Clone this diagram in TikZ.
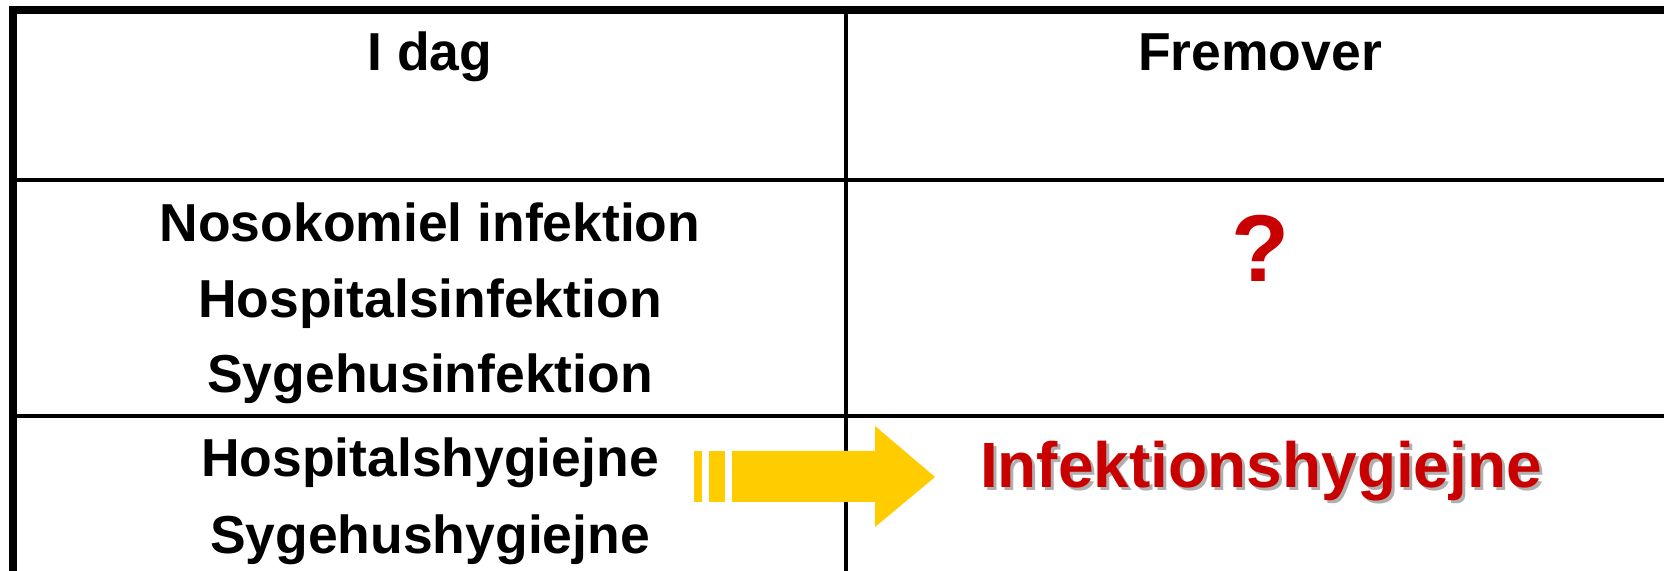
\documentclass[tikz,border=0pt]{standalone}
\usepackage{fontspec}
\setmainfont{Liberation Sans}
\definecolor{hygred}{RGB}{200,0,0}
\definecolor{arrowyellow}{RGB}{255,204,0}
\definecolor{shadowgray}{RGB}{175,175,175}
\begin{document}
\begin{tikzpicture}
          [x=0.01cm,y=-0.01cm,every node/.style={inner sep=0pt, anchor=base, font=\fontsize{15.2}{18}\selectfont\bfseries},
           rule/.style={draw=black, line width=1.1pt},
           frame/.style={draw=black, line width=2.2pt}]
        \useasboundingbox (0,0) rectangle (1664,571);

        % table lines
        \draw[rule] (13,180) -- (1664,180);
        \draw[rule] (13,416) -- (1664,416);
        \draw[rule] (846,10) -- (846,571);
        \draw[frame] (13,571) -- (13,10) -- (1664,10);

        % headings
        \node (h1) at (430,71) {I dag};
        \node (h2) at (1260,71) {Fremover};

        % left column
        \foreach \name/\y/\txt in {n1/242/Nosokomiel infektion, n2/318/Hospitalsinfektion, n3/393/Sygehusinfektion, n4/477/Hospitalshygiejne, n5/554/Sygehushygiejne}
          \node (\name) at (430,\y) {\txt};

        % right column
        \node[text=hygred, font=\fontsize{27}{30}\selectfont\bfseries] (q) at (1260,282) {?};
        \node[text=shadowgray, font=\fontsize{18.2}{22}\selectfont\bfseries] (n6s) at (1264,491) {Infektionshygiejne};
        \node[text=hygred, font=\fontsize{18.2}{22}\selectfont\bfseries] (n6) at (1261,488) {Infektionshygiejne};

        % arrow
        \fill[arrowyellow] (694,451) rectangle (702,502);
        \fill[arrowyellow] (709,451) rectangle (725,502);
        \fill[arrowyellow] (732,451) -- (875,451) -- (875,426) -- (935,477) -- (875,527) -- (875,502) -- (732,502) -- cycle;
      \end{tikzpicture}
\end{document}
